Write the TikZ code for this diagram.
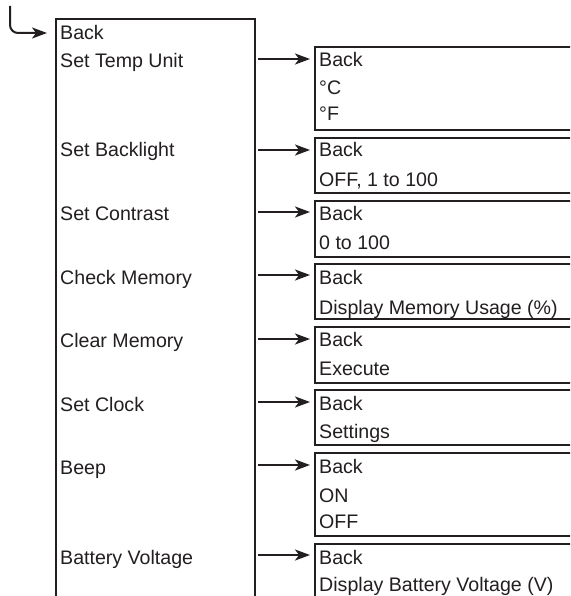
\documentclass[tikz,border=0pt]{standalone}
\usepackage{fontspec}
\setmainfont{Liberation Sans}
\usetikzlibrary{arrows.meta}
\definecolor{ink}{RGB}{35,31,32}
\begin{document}
\begin{tikzpicture}[x=1pt,y=-1pt,
  box/.style={draw=ink, line width=1.8pt, anchor=north west, inner sep=0pt, minimum width=300pt},
  lbl/.style={anchor=base west, inner sep=0pt, font=\fontsize{19.6}{22}\selectfont, text=ink},
  arr/.style={draw=ink, line width=2pt, -{Stealth[length=15pt,width=11pt,inset=4pt]}, shorten >=4pt}]
\clip (0,0) rectangle (570,596);
\fill[white] (0,0) rectangle (570,596);
% main menu box (open at the bottom)
\node[box, minimum width=199pt, minimum height=640pt] (main) at (55,18) {};
% entry hook arrow
\coordinate (hook) at (10,6);
\draw[arr, rounded corners=8pt, shorten >=8pt] (hook) |- (main.west |- 0,33);
% main labels
\node[lbl] (m0) at (60,39.5) {Back};
\node[lbl] (m1) at (60,68) {Set Temp Unit};
\node[lbl] (m2) at (60,157) {Set Backlight};
\node[lbl] (m3) at (60,220.5) {Set Contrast};
\node[lbl] (m4) at (60,284) {Check Memory};
\node[lbl] (m5) at (60,347) {Clear Memory};
\node[lbl] (m6) at (60,411) {Set Clock};
\node[lbl] (m7) at (60,474) {Beep};
\node[lbl] (m8) at (60,564) {Battery Voltage};
% sub-menu boxes
\node[box, minimum height=83pt] (b1) at (314,46) {};
\node[box, minimum height=55pt] (b2) at (314,137) {};
\node[box, minimum height=56pt] (b3) at (314,200) {};
\node[box, minimum height=55pt] (b4) at (314,263) {};
\node[box, minimum height=56pt] (b5) at (314,326) {};
\node[box, minimum height=55pt] (b6) at (314,389) {};
\node[box, minimum height=83pt] (b7) at (314,452) {};
\node[box, minimum height=90pt] (b8) at (314,543) {};
% sub-menu labels
\node[lbl] (b1a) at (319,67) {Back};
\node[lbl] (b1b) at (319,95) {°C};
\node[lbl] (b1c) at (319,121) {°F};
\node[lbl] (b2a) at (319,157) {Back};
\node[lbl] (b2b) at (319,186) {OFF, 1 to 100};
\node[lbl] (b3a) at (319,220) {Back};
\node[lbl] (b3b) at (319,249) {0 to 100};
\node[lbl] (b4a) at (319,284) {Back};
\node[lbl] (b4b) at (319,314) {Display Memory Usage (\%)};
\node[lbl] (b5a) at (319,346) {Back};
\node[lbl] (b5b) at (319,375) {Execute};
\node[lbl] (b6a) at (319,410) {Back};
\node[lbl] (b6b) at (319,438) {Settings};
\node[lbl] (b7a) at (319,473) {Back};
\node[lbl] (b7b) at (319,502) {ON};
\node[lbl] (b7c) at (319,528) {OFF};
\node[lbl] (b8a) at (319,564) {Back};
\node[lbl] (b8b) at (319,591) {Display Battery Voltage (V)};
% connectors
\foreach \i/\y in {1/59,2/150,3/212,4/275,5/339,6/402,7/465,8/555}{
  \coordinate (s\i) at (258,\y);
  \draw[arr] (s\i) -- (s\i -| b\i.west);
}
\end{tikzpicture}
\end{document}
